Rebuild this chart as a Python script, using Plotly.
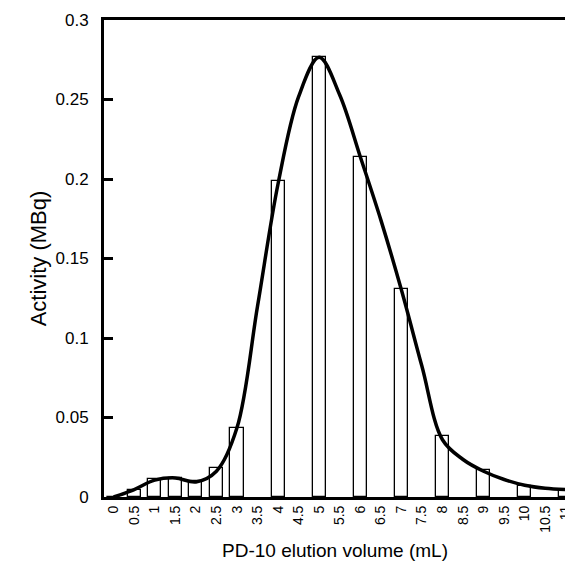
import plotly.graph_objects as go

# categories (elution volume, mL)
tick_values = [i * 0.5 for i in range(23)]
tick_labels = ["0", "0.5", "1", "1.5", "2", "2.5", "3", "3.5", "4", "4.5", "5", "5.5",
               "6", "6.5", "7", "7.5", "8", "8.5", "9", "9.5", "10", "10.5", "11"]

# measured fractions (bars)
bar_volume = [0, 0.5, 1, 1.5, 2, 2.5, 3, 4, 5, 6, 7, 8, 9, 10, 11]
bar_activity = [0.0, 0.0043, 0.0112, 0.0118, 0.0098, 0.0183, 0.0435, 0.199, 0.2765,
                0.214, 0.1308, 0.0382, 0.0171, 0.0072, 0.0047]

# smoothed elution profile
curve_volume = [0, 0.5, 1, 1.5, 2, 2.5, 3, 3.5, 4, 4.5, 5, 5.5, 6, 6.5, 7, 7.5,
                8, 8.5, 9, 9.5, 10, 10.5, 11]
curve_activity = [0.0, 0.0047, 0.0106, 0.012, 0.0095, 0.0162, 0.0435, 0.12, 0.197,
                  0.2518, 0.2765, 0.2528, 0.214, 0.1743, 0.1303, 0.0822, 0.036,
                  0.0236, 0.0162, 0.011, 0.0074, 0.0055, 0.0047]

font = "Liberation Sans, Arial, sans-serif"

fig = go.Figure()
fig.add_trace(go.Bar(
    x=bar_volume, y=bar_activity, width=0.32,
    marker=dict(color="white", line=dict(color="black", width=1.3)),
    showlegend=False,
))
fig.add_trace(go.Scatter(
    x=curve_volume, y=curve_activity, mode="lines",
    line=dict(color="black", width=3.5, shape="spline", smoothing=1.0),
    showlegend=False,
))

fig.update_layout(
    width=565, height=564,
    margin=dict(l=96, r=0, t=12, b=75),
    paper_bgcolor="white", plot_bgcolor="white",
    font=dict(family=font, color="black"),
    bargap=0,
)
fig.update_xaxes(
    range=[-0.235, 11.005],
    tickmode="array", tickvals=tick_values, ticktext=tick_labels,
    tickangle=-90, tickfont=dict(size=14), ticklabeloverflow="allow",
    showline=True, linecolor="black", linewidth=3, mirror=True,
    ticks="", showgrid=False, zeroline=False,
    title=dict(text="PD-10 elution volume (mL)", font=dict(size=19), standoff=12),
)
fig.update_yaxes(
    range=[0, 0.3],
    tickmode="array", tickvals=[0, 0.05, 0.1, 0.15, 0.2, 0.25, 0.3],
    ticktext=["0", "0.05", "0.1", "0.15", "0.2", "0.25", "0.3"],
    tickfont=dict(size=17), ticklabelstandoff=9,
    showline=True, linecolor="black", linewidth=3,
    ticks="inside", ticklen=9, tickwidth=3, tickcolor="black",
    showgrid=False, zeroline=False,
    title=dict(text="Activity (MBq)", font=dict(size=22), standoff=3),
)

fig.write_html("out.html")
